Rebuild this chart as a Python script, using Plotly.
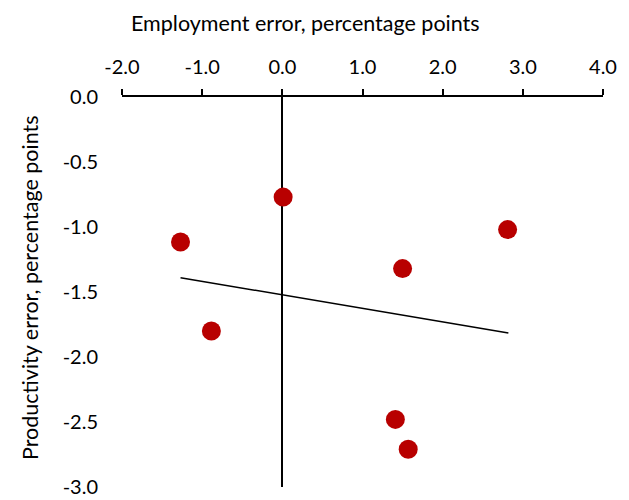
import plotly.graph_objects as go

# Data
employment_error = [-1.27, -0.885, 0.01, 1.50, 2.81, 1.41, 1.57]
productivity_error = [-1.115, -1.80, -0.77, -1.32, -1.02, -2.48, -2.71]

trend_x = [-1.27, 2.82]
trend_y = [-1.39, -1.815]

x_ticks = [-2.0, -1.0, 0.0, 1.0, 2.0, 3.0, 4.0]
y_ticks = [0.0, -0.5, -1.0, -1.5, -2.0, -2.5, -3.0]

FONT = "Lato"
FS = 20
TFS = 21.5

# page body has an 8px margin; compensate so the plot sits where the reference has it
OFF = 8
PL, PR, PT, PB = 122, 603, 97, 487
W, H = 629 - OFF, 500 - OFF
pw, ph = PR - PL, PB - PT

fig = go.Figure()
fig.add_trace(go.Scatter(x=trend_x, y=trend_y, mode="lines",
                         line=dict(color="black", width=1.5),
                         hoverinfo="skip", showlegend=False))
fig.add_trace(go.Scatter(x=employment_error, y=productivity_error, mode="markers",
                         marker=dict(color="#B80000", size=19, line=dict(width=0)),
                         showlegend=False))

fig.update_layout(
    width=W, height=H,
    margin=dict(l=PL - OFF, r=W - (PR - OFF), t=PT - OFF, b=H - (PB - OFF), autoexpand=False),
    plot_bgcolor="white", paper_bgcolor="white",
    font=dict(family=FONT, size=FS, color="black"),
    xaxis=dict(range=[-2, 4], side="top", tickvals=x_ticks,
               ticktext=[f"{v:.1f}" for v in x_ticks],
               showgrid=False, showline=True, linecolor="black", linewidth=1.5,
               ticks="outside", ticklen=6, tickwidth=1.5, tickcolor="black",
               zeroline=True, zerolinecolor="black", zerolinewidth=1.5,
               ticklabelstandoff=7, automargin=False),
    yaxis=dict(range=[-3, 0], tickvals=y_ticks,
               ticktext=[f"{v:.1f}" for v in y_ticks],
               showgrid=False, showline=False, zeroline=False,
               ticks="", ticklabelstandoff=23, automargin=False),
    annotations=[
        dict(text="Employment error, percentage points", xref="paper", yref="paper",
             x=(305 - PL) / pw, y=1 + (PT - 23) / ph, xanchor="center", yanchor="middle",
             showarrow=False, font=dict(family=FONT, size=TFS)),
        dict(text="Productivity error, percentage points", xref="paper", yref="paper",
             x=-(PL - 30) / pw, y=(PB - 288) / ph, xanchor="center", yanchor="middle",
             textangle=-90, showarrow=False, font=dict(family=FONT, size=TFS)),
    ],
)

fig.write_html("out.html")
